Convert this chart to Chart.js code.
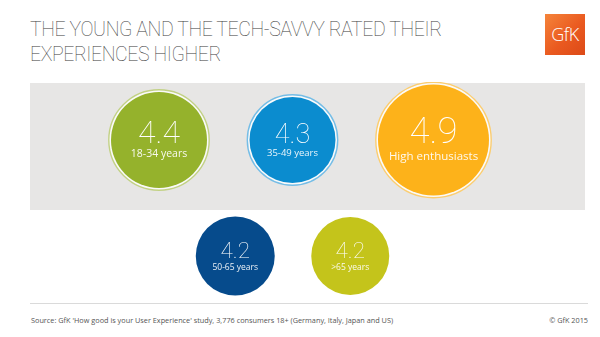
<!DOCTYPE html>
<html>
<head>
<meta charset="utf-8">
<script src="https://cdn.jsdelivr.net/npm/chart.js@4.4.0/dist/chart.umd.min.js"></script>
<style>
  html, body { margin: 0; padding: 0; background: #fff; }
  #page { position: relative; width: 600px; height: 337px; overflow: hidden; font-family: "Open Sans", sans-serif; }
  #title { position: absolute; left: 30px; top: 17px; font-family: Roboto, sans-serif; font-weight: 100;
           font-size: 19.5px; line-height: 25px; color: #3c3c3c; letter-spacing: -0.4px; white-space: nowrap; }
  #logo { position: absolute; left: 545px; top: 14px; width: 40px; height: 41px;
          background: linear-gradient(135deg, #f5843a 0%, #ea5a20 55%, #dc4a18 100%); overflow: hidden; }
  #logo span { position: absolute; left: 0; right: 0; top: 9px; text-align: center; color: #fff;
               font-family: "Open Sans", sans-serif; font-weight: 300; font-size: 18px; line-height: 22px; letter-spacing: -0.5px; }
  #panel { position: absolute; left: 30px; top: 83px; width: 555px; height: 127px; background: #e7e6e5; }
  #wrap { position: absolute; left: 0; top: 82px; width: 600px; height: 232px; }
  #rule { position: absolute; left: 30px; top: 303px; width: 558px; height: 1px; background: #dadada; }
  .foot { position: absolute; top: 315px; font-size: 7.3px; line-height: 10px; color: #555; white-space: nowrap; }
  #source { left: 31px; }
  #copy { right: 12px; }
</style>
</head>
<body>
<div id="page">
  <div id="title">THE YOUNG AND THE TECH-SAVVY RATED THEIR<br>EXPERIENCES HIGHER</div>
  <div id="logo"><span>GfK</span></div>
  <div id="panel"></div>
  <div id="rule"></div>
  <div class="foot" id="source">Source: GfK 'How good is your User Experience' study, 3,776 consumers 18+ (Germany, Italy, Japan and US)</div>
  <div class="foot" id="copy">© GfK 2015</div>
  <div id="wrap"><canvas id="chart" width="600" height="232"></canvas></div>
</div>
<script>
// Average rating of the user experience, per group
const groups = ["18-34 years", "35-49 years", "High enthusiasts", "50-65 years", ">65 years"];
const ratings = [4.4, 4.3, 4.9, 4.2, 4.2];

// Look of each bubble (kept apart from the data)
const fillColors = ["#95b22c", "#0b8ccf", "#fdb21a", "#064b8c", "#c4c41b"];
const ringColors = ["#c2d185", "#75bde6", "#fbcd70", null, null];
const bubbleRow = [0, 0, 0, 1, 1];
const bubbleRadius = [48, 43, 55.5, 39.5, 39];
const valueFont = [32, 27, 36.5, 22.5, 22.5];
const labelFont = [10.5, 9.5, 11.5, 8.5, 8.5];
const ringGap = 3;
const bubbleGap = 36.5;

// pack the bubbles of one row side by side, centred on cx
function packRow(idx, cx) {
  const outer = idx.map(i => bubbleRadius[i] + (ringColors[i] ? ringGap : 0));
  const total = outer.reduce((a, r) => a + 2 * r, 0) + bubbleGap * (idx.length - 1);
  let x = cx - total / 2;
  return idx.map((i, k) => {
    const c = x + outer[k];
    x += 2 * outer[k] + bubbleGap;
    return c;
  });
}

const topIdx = groups.map((_, i) => i).filter(i => bubbleRow[i] === 0);
const botIdx = groups.map((_, i) => i).filter(i => bubbleRow[i] === 1);
const xPos = [];
const topX = packRow(topIdx, 300);
topIdx.forEach((i, k) => xPos[i] = topX[k]);
const botX = packRow(botIdx, topX[Math.floor(topIdx.length / 2)]);
botIdx.forEach((i, k) => xPos[i] = botX[k]);

const mainPoints = groups.map((g, i) => ({ x: xPos[i], y: bubbleRow[i], r: bubbleRadius[i], v: ratings[i] }));
const ringIdx = groups.map((_, i) => i).filter(i => ringColors[i]);
const ringPoints = ringIdx.map(i => ({ x: xPos[i], y: bubbleRow[i], r: bubbleRadius[i] + ringGap - 0.8 }));

// write the rating and group name inside each bubble
const bubbleText = {
  id: "bubbleText",
  afterDatasetsDraw(chart) {
    const ctx = chart.ctx;
    const meta = chart.getDatasetMeta(1);
    ctx.save();
    ctx.textAlign = "center";
    meta.data.forEach((el, i) => {
      const r = bubbleRadius[i];
      ctx.fillStyle = "#ffffff";
      ctx.textBaseline = "alphabetic";
      ctx.font = "100 " + valueFont[i] + "px Roboto";
      ctx.fillText(ratings[i].toFixed(1), el.x, el.y + 0.06 * r);
      ctx.fillStyle = "rgba(255,255,255,0.92)";
      ctx.textBaseline = "middle";
      ctx.font = labelFont[i] + "px 'Open Sans'";
      ctx.fillText(groups[i], el.x, el.y + 0.3 * r);
    });
    ctx.restore();
  }
};

new Chart(document.getElementById("chart"), {
  type: "bubble",
  plugins: [bubbleText],
  data: {
    datasets: [
      {
        data: ringPoints,
        backgroundColor: "rgba(255,255,255,0.8)",
        borderColor: ringIdx.map(i => ringColors[i]),
        borderWidth: 1.4,
        order: 2,
        clip: false
      },
      {
        data: mainPoints,
        backgroundColor: fillColors,
        borderWidth: 0,
        order: 1,
        clip: false
      }
    ]
  },
  options: {
    responsive: false,
    animation: false,
    events: [],
    layout: { padding: 0, autoPadding: false },
    plugins: { legend: { display: false }, tooltip: { enabled: false } },
    scales: {
      x: { type: "linear", min: 0, max: 600, display: false },
      y: { type: "linear", min: -0.5, max: 1.5, reverse: true, display: false }
    }
  }
});
</script>
</body>
</html>
